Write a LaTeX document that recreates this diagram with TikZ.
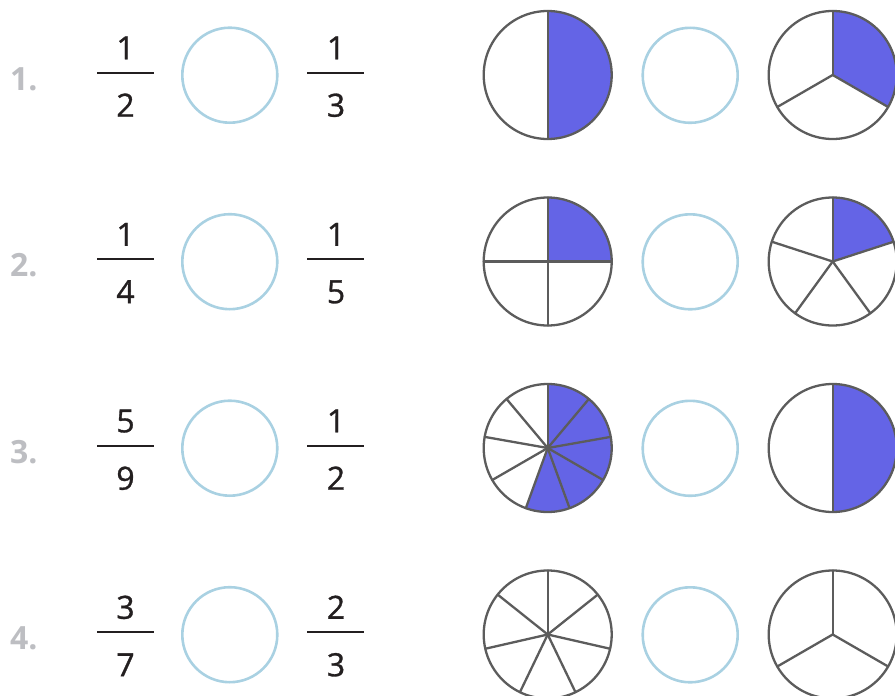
\documentclass[tikz,border=0pt]{standalone}
\usepackage{fontspec}
\setmainfont{Open Sans}
\newfontfamily\digitfont[FakeBold=1]{Open Sans}
\definecolor{pieblue}{HTML}{6464E6}
\definecolor{piegray}{HTML}{5C5C5C}
\definecolor{ringblue}{HTML}{A9D1E2}
\definecolor{labgray}{HTML}{BDBEC2}
\definecolor{ink}{HTML}{231F20}
\newcommand\fracpie[4]{%
  \ifnum#4>0
    \foreach \i in {1,...,#4}{%
      \fill[pieblue] (#1,#2) -- ++({-90+(\i-1)*360/#3}:64)
        arc[start angle={-90+(\i-1)*360/#3}, delta angle={360/#3}, radius=64] -- cycle;}%
  \fi
  \foreach \j in {1,...,#3}{%
    \draw[pieline] (#1,#2) -- ++({-90+(\j-1)*360/#3}:64);}%
  \draw[pieline] (#1,#2) circle[radius=64];%
}
\begin{document}
\begin{tikzpicture}[x=1pt,y=-1pt,
  numtext/.style={font=\digitfont\fontsize{32}{32}\selectfont, text=ink, anchor=base, inner sep=0pt},
  labtext/.style={font=\fontsize{32}{32}\selectfont\bfseries, text=labgray, anchor=base west, inner sep=0pt},
  ring/.style={circle, draw=ringblue, line width=2.6pt, minimum size=95pt, inner sep=0pt},
  fracbar/.style={draw=ink, line width=2pt},
  pieline/.style={draw=piegray, line width=2.3pt, line cap=round, line join=round}]
\useasboundingbox (0,0) rectangle (895,696);
\clip (0,0) rectangle (895,696);
\foreach \r/\na/\da/\nb/\db/\pa/\ka/\pb/\kb in
  {1/1/2/1/3/2/1/3/1, 2/1/4/1/5/4/1/5/1, 3/5/9/1/2/9/5/2/1, 4/3/7/2/3/7/0/3/0}{
  \pgfmathsetmacro\off{186.5*(\r-1)}
  % label
  \node[labtext] (lab\r) at (10,90+\off) {\r.};
  % first fraction
  \node[numtext] (numA\r) at (125.5,59.3+\off) {\na};
  \node[numtext] (denA\r) at (125.5,116.7+\off) {\da};
  \coordinate (barAl\r) at (97,72.7+\off);
  \coordinate (barAr\r) at (154,72.7+\off);
  \draw[fracbar] (barAl\r) -- (barAr\r);
  % comparison ring
  \node[ring] (ringA\r) at (229.8,75.2+\off) {};
  % second fraction
  \node[numtext] (numB\r) at (336,59.3+\off) {\nb};
  \node[numtext] (denB\r) at (336,116.7+\off) {\db};
  \coordinate (barBl\r) at (307,72.7+\off);
  \coordinate (barBr\r) at (364,72.7+\off);
  \draw[fracbar] (barBl\r) -- (barBr\r);
  % pies
  \fracpie{547.7}{75+\off}{\pa}{\ka}
  \node[ring] (ringB\r) at (690.2,75.3+\off) {};
  \fracpie{832.7}{75+\off}{\pb}{\kb}
}
\end{tikzpicture}
\end{document}
